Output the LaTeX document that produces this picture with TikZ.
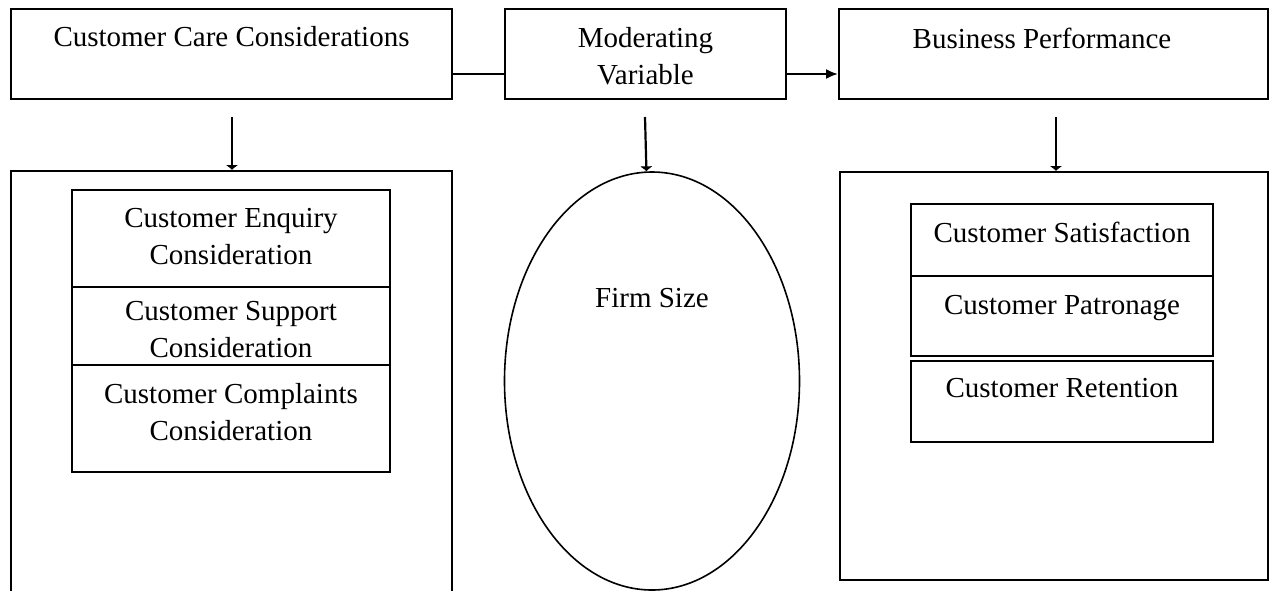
\documentclass[tikz,border=0pt]{standalone}
\usepackage{fontspec}
\setmainfont{Liberation Serif}
\usetikzlibrary{arrows.meta,shapes.geometric}
\begin{document}
\begin{tikzpicture}[x=1pt,y=-1pt,
  box/.style={draw,line width=2pt,rectangle,inner sep=0pt},
  ovalbox/.style={draw,line width=1.6pt,ellipse,inner sep=0pt},
  txt/.style={font=\fontsize{29}{37}\selectfont,align=center,inner sep=0pt},
  conn/.style={line width=2pt},
  downarr/.style={line width=2.2pt,-{Latex[length=5pt,width=13pt]}},
  rarr/.style={line width=2pt,-{Latex[length=12pt,width=10pt]}}]
\useasboundingbox (0,0) rectangle (1270,590);
% top row
\node[box,minimum width=441pt,minimum height=90pt] (ccc) at (231.5,54) {};
\node[box,minimum width=281pt,minimum height=90pt] (mod) at (645.5,54) {};
\node[box,minimum width=429pt,minimum height=90pt] (bp) at (1053.5,54) {};
\node[txt] (ccct) at (231.5,37) {Customer Care Considerations};
\node[txt] (modt) at (645.5,56) {Moderating\\Variable};
\node[txt] (bpt) at (1042,38) {Business Performance};
\draw[conn] ([yshift=-20pt]ccc.east) -- ([yshift=-20pt]mod.west);
\draw[rarr] ([yshift=-20pt]mod.east) -- ([yshift=-20pt]bp.west);
% big boxes
\node[box,minimum width=441pt,minimum height=449pt] (lbox) at (231.5,395.5) {};
\node[box,minimum width=428pt,minimum height=408pt] (rbox) at (1054,376) {};
\node[ovalbox,minimum width=295pt,minimum height=418pt] (ell) at (652,381) {};
\node[txt] (firm) at (652,298) {Firm Size};
% down arrows
\coordinate (a1) at (232,117);
\coordinate (a2) at (645,117);
\coordinate (a3) at (1056,117);
\draw[downarr] (a1) -- (a1 |- lbox.north);
\draw[downarr] (a2) -- (ell);
\draw[downarr] (a3) -- (a3 |- rbox.north);
% left inner boxes
\node[box,minimum width=318pt,minimum height=97pt] (l1) at (231,238.5) {};
\node[box,minimum width=318pt,minimum height=78pt] (l2) at (231,326) {};
\node[box,minimum width=318pt,minimum height=107pt] (l3) at (231,418.5) {};
\node[txt] (l1t) at (231,237) {Customer Enquiry\\Consideration};
\node[txt] (l2t) at (231,330) {Customer Support\\Consideration};
\node[txt] (l3t) at (231,412) {Customer Complaints\\Consideration};
% right inner boxes
\node[box,minimum width=302pt,minimum height=72pt] (r1) at (1062,240) {};
\node[box,minimum width=302pt,minimum height=80pt] (r2) at (1062,316) {};
\node[box,minimum width=302pt,minimum height=81pt] (r3) at (1062,401.5) {};
\node[txt] (r1t) at (1062,232) {Customer Satisfaction};
\node[txt] (r2t) at (1062,308) {Customer Patronage};
\node[txt] (r3t) at (1062,388) {Customer Retention};
\end{tikzpicture}
\end{document}
